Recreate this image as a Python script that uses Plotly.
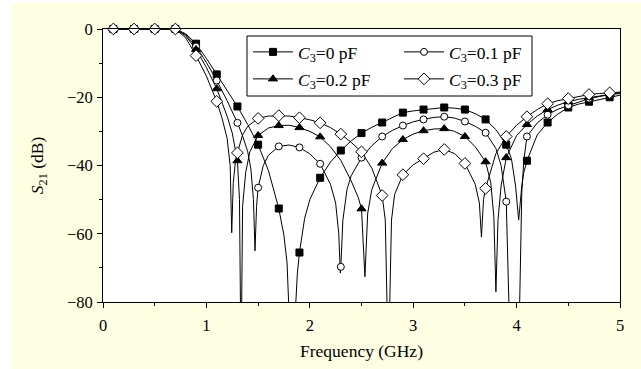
import plotly.graph_objects as go

# ---------------- data ----------------
names = ["<i>C</i><sub>3</sub>=0 pF", "<i>C</i><sub>3</sub>=0.1 pF",
         "<i>C</i><sub>3</sub>=0.2 pF", "<i>C</i><sub>3</sub>=0.3 pF"]

marker_freq = [0.1, 0.3, 0.5, 0.7, 0.9, 1.1, 1.3, 1.5, 1.7, 1.9, 2.1, 2.3, 2.5,
               2.7, 2.9, 3.1, 3.3, 3.5, 3.7, 3.9, 4.1, 4.3, 4.5, 4.7, 4.9]

mk_c0 = [0, 0, 0, 0, -4.3, -13.3, -22.7, -33.9, -52.6, -65.5, -43.6, -35.6, -30.5,
         -27.4, -24.5, -23.6, -23.0, -23.6, -26.5, -33.9, -38.6, -27.4, -23.0, -21.3, -20.0]
mk_c1 = [0, 0, 0, 0, -5.1, -15.1, -27.5, -46.5, -34.4, -34.7, -39.5, -69.7, -37.7,
         -31.5, -28.3, -26.5, -25.7, -27.1, -30.4, -50.6, -31.5, -25.1, -22.4, -20.4, -19.2]
mk_c2 = [0, 0, 0, 0, -6.0, -17.5, -38.6, -31.2, -28.3, -28.9, -31.6, None, -52.7,
         -39.3, -32.4, -29.8, -29.2, -31.5, -38.9, -37.7, -28.0, -23.6, -21.3, -20.1, -19.0]
mk_c3 = [0, 0, 0, 0, -7.8, -21.2, -36.3, -26.2, -25.4, -26.0, -27.5, -30.8, -36.0,
         -48.8, -42.7, -38.0, -35.3, -39.4, -46.7, -31.5, -25.7, -21.9, -20.4, -19.2, -18.7]

line_f_c0 = [0.1, 0.3, 0.5, 0.7, 0.8, 0.9, 1.0, 1.1, 1.2, 1.3, 1.4, 1.5, 1.6, 1.7, 1.75,
             1.78, 1.795, 1.83, 1.865, 1.88, 1.9, 1.95, 2.0, 2.1, 2.2, 2.3, 2.4, 2.5,
             2.6, 2.7, 2.8, 2.9, 3.0, 3.1, 3.2, 3.3, 3.4, 3.5, 3.6, 3.7, 3.8, 3.9, 3.95,
             3.99, 4.02, 4.05, 4.07, 4.1, 4.2, 4.3, 4.4, 4.5, 4.6, 4.7, 4.8, 4.9, 5.0]
line_v_c0 = [0, 0, 0, 0, -1.4, -4.3, -8.6, -13.3, -18.0, -22.7, -28.0, -33.9, -41.5, -52.6, -60.5,
             -68.5, -80, -110, -80, -71.5, -65.5, -55.5, -50.0, -43.6, -39.0, -35.6, -32.8, -30.5,
             -28.8, -27.4, -25.8, -24.5, -24.0, -23.6, -23.2, -23.0, -23.2, -23.6, -24.8, -26.5, -29.5, -33.9, -38.0,
             -46.0, -56.0, -46.0, -42.0, -38.6, -31.0, -27.4, -24.9, -23.0, -22.0, -21.3, -20.6, -20.0, -19.4]

line_f_c1 = [0.1, 0.3, 0.5, 0.7, 0.8, 0.9, 1.0, 1.1, 1.2, 1.3, 1.35, 1.4, 1.43, 1.455, 1.47,
             1.485, 1.5, 1.55, 1.6, 1.7, 1.8, 1.9, 2.0, 2.1, 2.2, 2.25, 2.28, 2.295, 2.3, 2.32,
             2.36, 2.4, 2.5, 2.6, 2.7, 2.8, 2.9, 3.0, 3.1, 3.2, 3.3, 3.4, 3.5, 3.6, 3.7, 3.8,
             3.85, 3.9, 3.925, 3.98, 4.03, 4.05, 4.07, 4.1, 4.2, 4.3, 4.4, 4.5, 4.6, 4.7, 4.8,
             4.9, 5.0]
line_v_c1 = [0, 0, 0, 0, -1.7, -5.1, -9.8, -15.1, -21.0, -27.5, -31.3, -36.0, -41.0, -50.0, -65.0,
             -52.0, -46.5, -40.0, -37.0, -34.4, -34.0, -34.7, -36.6, -39.5, -45.5, -51.0, -60.0, -71.5, -69.7, -56.0,
             -47.0, -43.0, -37.7, -34.2, -31.5, -29.7, -28.3, -27.2, -26.5, -25.9, -25.7, -26.1, -27.1, -28.5, -30.4, -35.0,
             -40.0, -50.6, -80, -110, -80, -48.0, -38.5, -31.5, -27.5, -25.1, -23.5, -22.4, -21.3, -20.4, -19.8,
             -19.2, -18.9]

line_f_c2 = [0.1, 0.3, 0.5, 0.7, 0.8, 0.9, 1.0, 1.1, 1.2, 1.25, 1.3, 1.32, 1.335, 1.35, 1.38,
             1.42, 1.5, 1.6, 1.7, 1.8, 1.9, 2.0, 2.1, 2.2, 2.3, 2.4, 2.47, 2.5, 2.533, 2.56,
             2.6, 2.7, 2.8, 2.9, 3.0, 3.1, 3.2, 3.3, 3.4, 3.5, 3.6, 3.7, 3.75, 3.78, 3.80,
             3.82, 3.85, 3.9, 4.0, 4.1, 4.2, 4.3, 4.4, 4.5, 4.6, 4.7, 4.8, 4.9, 5.0]
line_v_c2 = [0, 0, 0, 0, -2.0, -6.0, -11.3, -17.5, -25.5, -30.5, -38.6, -50.0, -100, -52.0, -42.0,
             -36.0, -31.2, -29.0, -28.3, -28.2, -28.9, -30.0, -31.6, -34.5, -38.5, -44.5, -49.5, -52.7, -72.6, -54.0,
             -47.0, -39.3, -35.0, -32.4, -30.8, -29.8, -29.3, -29.2, -30.0, -31.5, -34.5, -38.9, -45.0, -55.0, -77.0,
             -56.0, -46.0, -37.7, -31.2, -28.0, -25.5, -23.6, -22.3, -21.3, -20.6, -20.1, -19.5, -19.0, -18.7]

line_f_c3 = [0.1, 0.3, 0.5, 0.7, 0.8, 0.9, 1.0, 1.1, 1.15, 1.2, 1.23, 1.245, 1.26, 1.28, 1.3,
             1.35, 1.4, 1.5, 1.6, 1.7, 1.8, 1.9, 2.0, 2.1, 2.2, 2.3, 2.4, 2.5, 2.6, 2.7,
             2.73, 2.76, 2.79, 2.82, 2.9, 3.0, 3.1, 3.2, 3.3, 3.4, 3.5, 3.6, 3.64, 3.66, 3.68,
             3.7, 3.8, 3.9, 4.0, 4.1, 4.2, 4.3, 4.4, 4.5, 4.6, 4.7, 4.8, 4.9, 5.0]
line_v_c3 = [0, 0, 0, 0, -2.6, -7.8, -13.8, -21.2, -26.0, -32.0, -40.0, -59.7, -45.0, -39.0, -36.3,
             -31.0, -28.5, -26.2, -25.5, -25.4, -25.5, -26.0, -26.6, -27.5, -28.9, -30.8, -33.2, -36.0, -40.8, -48.8,
             -56.0, -100, -56.0, -48.5, -42.7, -39.8, -38.0, -36.1, -35.3, -36.5, -39.4, -45.5, -51.0, -61.0, -50.0,
             -46.7, -36.5, -31.5, -28.2, -25.7, -23.6, -21.9, -21.0, -20.4, -19.8, -19.2, -18.9, -18.7, -18.5]

x_ticks = [0, 1, 2, 3, 4, 5]
y_ticks = [0, -20, -40, -60, -80]
y_tick_text = ["0", "\u221220", "\u221240", "\u221260", "\u221280"]

# ---------------- styles ----------------
FONT = "Liberation Serif"
BG = "#FEFEE2"
symbols = ["square", "circle", "triangle-up", "diamond"]
sizes = [7, 7, 8, 9]
fills = ["black", "white", "black", "white"]

series = [
    (line_f_c0, line_v_c0, mk_c0),
    (line_f_c1, line_v_c1, mk_c1),
    (line_f_c2, line_v_c2, mk_c2),
    (line_f_c3, line_v_c3, mk_c3),
]

fig = go.Figure()
for i, (lf, lv, mv) in enumerate(series):
    fig.add_trace(go.Scatter(x=lf, y=lv, mode="lines", line=dict(color="black", width=1),
                             showlegend=False, hoverinfo="skip"))
for i, (lf, lv, mv) in enumerate(series):
    fig.add_trace(go.Scatter(x=marker_freq, y=mv, mode="markers", cliponaxis=False,
                             marker=dict(symbol=symbols[i], size=sizes[i], color=fills[i],
                                         line=dict(color="black", width=1)),
                             showlegend=False))
legend_ids = ["legend", "legend2", "legend3", "legend4"]
for i in range(4):
    fig.add_trace(go.Scatter(x=[None], y=[None], mode="lines+markers", name=names[i],
                             line=dict(color="black", width=1),
                             marker=dict(symbol=symbols[i], size=sizes[i], color=fills[i],
                                         line=dict(color="black", width=1)),
                             legend=legend_ids[i], showlegend=True))

W, H = 641, 369
ml, mr, mt, mb = 103, 21, 29, 67
pw, ph = W - ml - mr, H - mt - mb


def px(xp):
    return (xp - ml) / pw


def py(yp):
    return (H - mb - yp) / ph


leg_common = dict(bgcolor="rgba(0,0,0,0)", borderwidth=0, orientation="v",
                  font=dict(family=FONT, size=17.5, color="black"),
                  xanchor="left", yanchor="middle", itemwidth=40)
col_x = [px(248), px(399)]
row_y = [py(52), py(79)]
layout_legends = {}
pos = [(0, 0), (1, 0), (0, 1), (1, 1)]
for i, lid in enumerate(legend_ids):
    c, r = pos[i]
    layout_legends[lid] = dict(leg_common, x=col_x[c], y=row_y[r])

axis_common = dict(showline=True, linecolor="black", linewidth=1, mirror=True,
                   showgrid=False, zeroline=False, ticks="outside", ticklen=5,
                   tickwidth=1, tickcolor="black",
                   tickfont=dict(family=FONT, size=16.5, color="black"))

fig.update_layout(
    width=W, height=H,
    margin=dict(l=ml, r=mr, t=mt, b=mb, autoexpand=False),
    paper_bgcolor=BG, plot_bgcolor="white",
    font=dict(family=FONT, size=16, color="black"),
    xaxis=dict(axis_common, range=[0, 5], tickvals=x_ticks, ticklabelstandoff=3,
               minor=dict(dtick=0.5, tick0=0, ticks="outside", ticklen=3, tickcolor="black"),
               title=dict(text="Frequency (GHz)", font=dict(family=FONT, size=17.5), standoff=10)),
    yaxis=dict(axis_common, range=[-80, 0], tickvals=y_ticks, ticktext=y_tick_text,
               ticklabelstandoff=1,
               minor=dict(dtick=10, tick0=0, ticks="outside", ticklen=3, tickcolor="black"),
               title=dict(text="<i>S</i><sub>21</sub> (dB)", font=dict(family=FONT, size=17.5), standoff=18)),
    shapes=[
        dict(type="rect", xref="paper", yref="paper", x0=px(0), x1=px(12), y0=py(H + 5), y1=py(-5),
             fillcolor="white", line=dict(width=0), layer="below"),
        dict(type="rect", xref="paper", yref="paper", x0=px(0), x1=px(W + 5), y0=py(3), y1=py(-5),
             fillcolor="white", line=dict(width=0), layer="below"),
        dict(type="rect", xref="paper", yref="paper", x0=px(247), x1=px(532), y0=py(96), y1=py(36),
             fillcolor="white", line=dict(color="black", width=1), layer="above"),
    ],
    **layout_legends,
)

fig.write_html("out.html", config={"displayModeBar": False},
               post_script="document.body.style.margin='0';")
